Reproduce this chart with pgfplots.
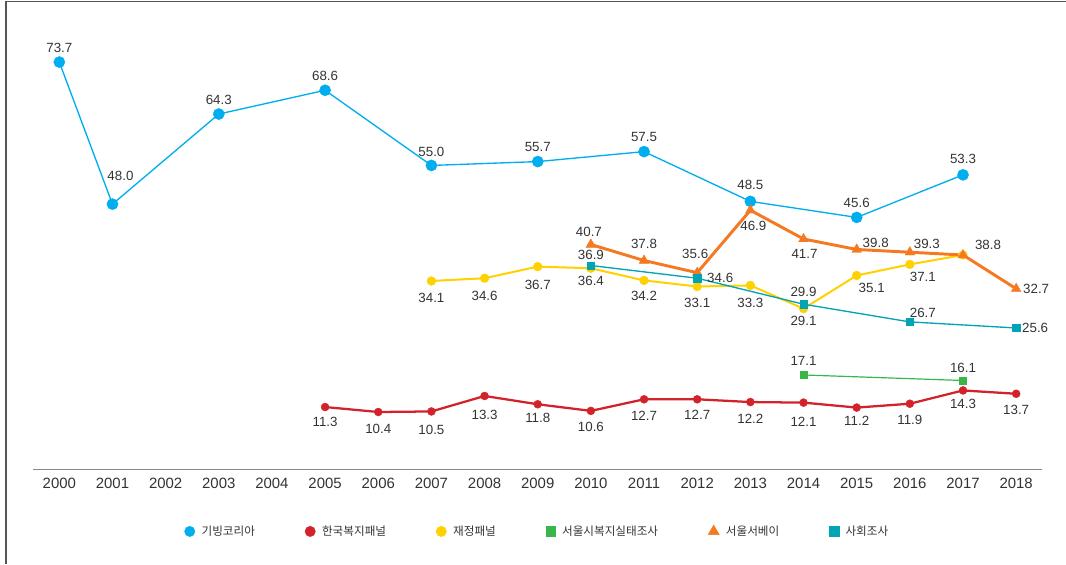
\documentclass[border=0pt]{standalone}
\usepackage{pgfplots}
\pgfplotsset{compat=1.18}
\usepackage{pgfplotstable}
\usepackage{fontspec}
\setmainfont{Liberation Sans}
\newfontfamily\kr{Noto Sans CJK KR}
\definecolor{cblue}{HTML}{00AEEF}
\definecolor{cred}{HTML}{D2232A}
\definecolor{cyellow}{HTML}{FFD100}
\definecolor{cgreen}{HTML}{39B54A}
\definecolor{corange}{HTML}{F47920}
\definecolor{cteal}{HTML}{00A4B4}
\definecolor{labelgray}{HTML}{333333}
\definecolor{axisgray}{HTML}{888888}
\definecolor{framegray}{HTML}{555555}

\pgfplotstableread{
x y lbl dx dy
2000 73.7 73.7 0 14
2001 48.0 48.0 8 28
2003 64.3 64.3 0 14
2005 68.6 68.6 0 14
2007 55.0 55.0 0 14
2009 55.7 55.7 0 15
2011 57.5 57.5 0 15
2013 48.5 48.5 0 16
2015 45.6 45.6 0 15
2017 53.3 53.3 0 16
}\giving

\pgfplotstableread{
x y lbl dx dy
2005 11.3 11.3 0 -15
2006 10.4 10.4 0 -17
2007 10.5 10.5 0 -18
2008 13.3 13.3 0 -19
2009 11.8 11.8 0 -14
2010 10.6 10.6 0 -16
2011 12.7 12.7 0 -17
2012 12.7 12.7 0 -16
2013 12.2 12.2 0 -17
2014 12.1 12.1 0 -19
2015 11.2 11.2 0 -13
2016 11.9 11.9 0 -16
2017 14.3 14.3 0 -13
2018 13.7 13.7 0 -16
}\welfare

\pgfplotstableread{
x y lbl dx dy
2007 34.1 34.1 0 -17
2008 34.6 34.6 0 -18
2009 36.7 36.7 0 -18
2010 36.4 36.4 0 -13
2011 34.2 34.2 0 -15
2012 33.1 33.1 0 -16
2013 33.3 33.3 0 -17
2014 29.1 29.1 0 -12
2015 35.1 35.1 15 -12
2016 37.1 37.1 13 -13
2017 38.8 {} 0 0
}\finance

\pgfplotstableread{
x y lbl dx dy
2014 17.1 17.1 0 14
2017 16.1 16.1 0 13
}\seoulwelfare

\pgfplotstableread{
x y lbl dx dy
2010 40.7 40.7 -2 13
2011 37.8 37.8 0 17
2012 35.6 35.6 -2 19
2013 46.9 46.9 3 -16
2014 41.7 41.7 1 -15
2015 39.8 39.8 19 7
2016 39.3 39.3 17 8
2017 38.8 38.8 25 10
2018 32.7 32.7 20 0
}\seoulsurvey

\pgfplotstableread{
x y lbl dx dy
2010 36.9 36.9 0 11
2012 34.6 34.6 23 0
2014 29.9 29.9 0 12
2016 26.7 26.7 13 9
2018 25.6 25.6 19 0
}\social

\pgfplotsset{lblstyle/.style={nodes near coords, point meta=explicit symbolic,
  visualization depends on={\thisrow{dx}\as\mydx},
  visualization depends on={\thisrow{dy}\as\mydy},
  every node near coord/.append style={anchor=center, inner sep=0pt,
    font=\fontsize{10}{12}\selectfont, text=labelgray,
    xshift={(\mydx)*0.75pt}, yshift={(\mydy)*0.75pt}}}}

\begin{document}
\begin{tikzpicture}
\path[use as bounding box] (0pt,0pt) rectangle (799.5pt,423pt);
\draw[framegray, line width=1.2pt] (4.5pt,0pt) -- (4.5pt,421.9pt) -- (799.5pt,421.9pt);
\begin{axis}[
  at={(24.75pt,70.875pt)}, anchor=south west,
  scale only axis, width=757.1pt, height=331.7pt,
  xmin=1999.505, xmax=2018.495, ymin=0, ymax=80,
  axis y line=none, axis x line*=bottom,
  x axis line style={draw=axisgray, line width=1.1pt, -},
  xtick={2000,2001,...,2018}, ytick=\empty,
  major tick length=0pt,
  xticklabel style={anchor=center, yshift=-10.1pt, font=\fontsize{11.2}{13}\selectfont, text=labelgray,
    /pgf/number format/1000 sep={}, /pgf/number format/assume math mode=true},
  clip=false,
  legend style={draw=none, fill=none, at={(0.500,-0.14)}, anchor=center,
    font=\kr\fontsize{8.7}{10}\selectfont, text=labelgray,
    /tikz/every odd column/.style={column sep=3pt},
    /tikz/every even column/.style={column sep=35.5pt}},
  legend columns=6,
  legend cell align=left,
  legend image code/.code={\draw[#1, only marks] plot coordinates {(0pt,0pt)};},
]
\addplot[cblue, line width=1pt, mark=*, mark size=4.2pt, mark options={solid, fill=cblue, draw=cblue, line width=0.3pt}, lblstyle, legend image post style={mark size=3.9pt}] table[x=x,y=y,meta=lbl]{\giving};
\addlegendentry{기빙코리아}
\addplot[cred, line width=1.7pt, mark=*, mark size=3pt, mark options={solid, fill=cred, draw=cred, line width=0.3pt}, lblstyle, legend image post style={mark size=3.9pt}] table[x=x,y=y,meta=lbl]{\welfare};
\addlegendentry{한국복지패널}
\addplot[cyellow, line width=1.5pt, mark=*, mark size=3.3pt, mark options={solid, fill=cyellow, draw=cyellow, line width=0.3pt}, lblstyle, legend image post style={mark size=3.9pt}] table[x=x,y=y,meta=lbl]{\finance};
\addlegendentry{재정패널}
\addplot[cgreen, line width=0.9pt, mark=square*, mark size=2.6pt, mark options={solid, fill=cgreen, draw=cgreen, line width=0.3pt}, lblstyle, legend image post style={mark size=3.6pt}] table[x=x,y=y,meta=lbl]{\seoulwelfare};
\addlegendentry{서울시복지실태조사}
\addplot[corange, line width=2.2pt, mark=triangle*, mark size=4.2pt, mark options={solid, fill=corange, draw=corange, line width=0.3pt}, lblstyle, legend image post style={mark size=4.8pt}] table[x=x,y=y,meta=lbl]{\seoulsurvey};
\addlegendentry{서울서베이}
\addplot[cteal, line width=1pt, mark=square*, mark size=2.7pt, mark options={solid, fill=cteal, draw=cteal, line width=0.3pt}, lblstyle, legend image post style={mark size=3.6pt}] table[x=x,y=y,meta=lbl]{\social};
\addlegendentry{사회조사}
\end{axis}
\end{tikzpicture}
\end{document}
